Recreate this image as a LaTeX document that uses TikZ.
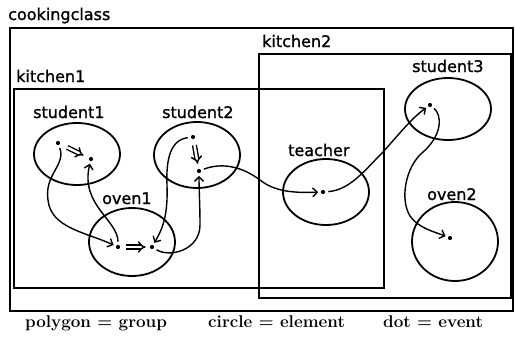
\documentclass[tikz,border=0pt]{standalone}
\usepackage{fontspec}
\newfontfamily\lblfont[FakeBold=1.2]{DejaVu Sans}
\usetikzlibrary{shapes.geometric,arrows.meta}
\tikzset{
  grp/.style={draw, rectangle, line width=1.1pt, inner sep=0pt},
  elem/.style={draw, ellipse, line width=1.8pt, inner sep=0pt, minimum width=86pt, minimum height=64pt},
  evt/.style={circle, fill, inner sep=0pt, minimum size=4.2pt},
  lbl/.style={anchor=base west, inner sep=0pt, font=\lblfont\fontsize{16}{16}\selectfont},
  legend/.style={anchor=base west, inner sep=0pt, font=\bfseries\fontsize{17}{17}\selectfont},
  flow/.style={line width=1.4pt, shorten <=3pt, shorten >=2.5pt, -{Straight Barb[length=4.5pt,width=9pt,line width=1.4pt]}},
  dbl/.style={line width=1.4pt, double, double distance=2.4pt, -{Implies}}
}
\begin{document}
\begin{tikzpicture}[x=1pt,y=-1pt]
\useasboundingbox (0,0) rectangle (515,343);
% groups
\node[grp, minimum width=503pt, minimum height=283pt] (cookingclass) at (261.5,169.5) {};
\node[grp, minimum width=370pt, minimum height=199pt] (kitchen1) at (199,188.5) {};
\node[grp, minimum width=252pt, minimum height=244pt] (kitchen2) at (385,176) {};
\node[lbl] (lcc) at (8,20) {cookingclass};
\node[lbl] (lk2) at (262,47) {kitchen2};
\node[lbl] (lk1) at (16,82) {kitchen1};
% elements
\node[elem, minimum height=62pt] (student1) at (77,154) {};
\node[elem, minimum height=66pt] (student2) at (197,155) {};
\node[elem, minimum height=68pt] (oven1) at (132,242) {};
\node[elem, minimum height=66pt] (teacher) at (326,192) {};
\node[elem, minimum height=62pt] (student3) at (448,109) {};
\node[elem, minimum height=79pt] (oven2) at (455,241.5) {};
\node[lbl] (ls1) at (33,118) {student1};
\node[lbl] (ls2) at (162,118) {student2};
\node[lbl] (lo1) at (102,204) {oven1};
\node[lbl] (lt) at (288,156) {teacher};
\node[lbl] (ls3) at (412,72) {student3};
\node[lbl] (lo2) at (427,200) {oven2};
% events
\node[evt] (s1a) at (58,143) {};
\node[evt] (s1b) at (91,159) {};
\node[evt] (s2a) at (193,137) {};
\node[evt] (s2b) at (199,171) {};
\node[evt] (o1a) at (118,247) {};
\node[evt] (o1b) at (152,247) {};
\node[evt] (t) at (323,192) {};
\node[evt] (s3) at (430,105) {};
\node[evt] (o2) at (450,238) {};
% internal double arrows
\draw[dbl, shorten <=8pt, shorten >=6pt] (s1a) -- (s1b);
\draw[dbl, shorten <=6pt, shorten >=5pt] (s2a) -- (s2b);
\draw[dbl, shorten <=6pt, shorten >=4pt] (o1a) -- (o1b);
% connectors
\draw[flow] (s1a) .. controls (66,165) and (44,175) .. (48,200) .. controls (51,228) and (85,232) .. (o1a);
\draw[flow] (o1a) .. controls (118,220) and (80,205) .. (s1b);
\draw[flow] (s2a) .. controls (170,140) and (166,160) .. (167,185) .. controls (168,215) and (163,228) .. (o1b);
\draw[flow] (o1b) .. controls (170,258) and (200,250) .. (200,225) .. controls (200,205) and (199,190) .. (s2b);
\draw[flow] (s2b) .. controls (220,163) and (240,165) .. (260,180) .. controls (275,192) and (295,193) .. (t);
\draw[flow] (t) .. controls (350,190) and (365,170) .. (383,152) .. controls (400,133) and (412,118) .. (s3);
\draw[flow] (s3) .. controls (442,115) and (443,135) .. (422,153) .. controls (405,168) and (400,200) .. (410,216) .. controls (418,228) and (435,232) .. (o2);
% legend
\node[legend] (leg1) at (25,327) {\addfontfeature{LetterSpace=8}polygon = group};
\node[legend] (leg2) at (208,327) {circle = element};
\node[legend] (leg3) at (383,327) {\addfontfeature{LetterSpace=3}dot = event};
\end{tikzpicture}
\end{document}
